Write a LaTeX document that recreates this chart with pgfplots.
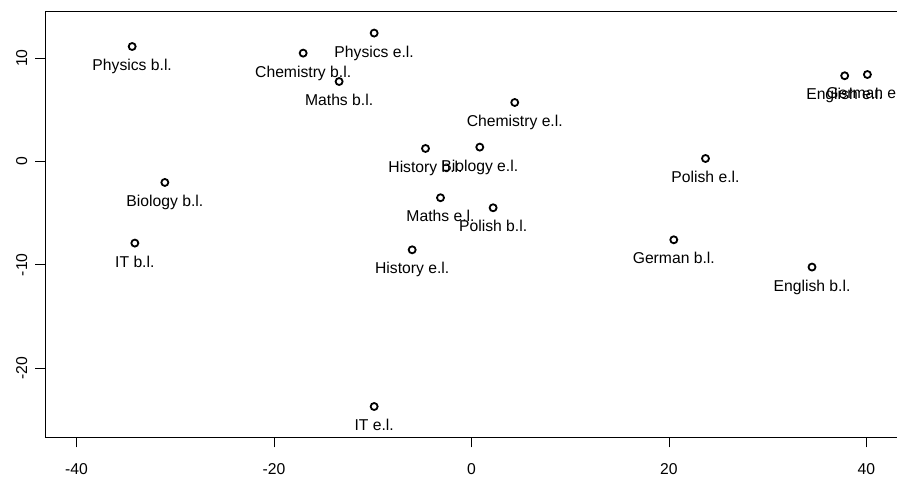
\documentclass[border=0pt]{standalone}
\usepackage{pgfplots}
\pgfplotsset{compat=1.18}
\usepackage{fontspec}
\setmainfont{Liberation Sans}

\begin{document}
\fontsize{15.7bp}{18bp}\selectfont
\begin{tikzpicture}
\useasboundingbox (0,0) rectangle (897bp,477bp);
\begin{axis}[
  at={(45bp,39.7bp)}, anchor=south west,
  scale only axis,
  width=853bp, height=425.6bp,
  xmin=-43.2, xmax=43.2,
  ymin=-26.7, ymax=14.5,
  axis line style={line width=0.8bp, black},
  xtick={-40,-20,0,20,40},
  xticklabels={-40,-20,0,20,40},
  ytick={-20,-10,0,10},
  yticklabels={-20,-10,0,10},
  xtick pos=lower, ytick pos=left,
  tick align=outside,
  major tick length=10bp,
  tick style={line width=0.8bp, black},
  xticklabel style={anchor=base, yshift=-27.3bp},
  yticklabel style={xshift=-8bp, rotate=90, anchor=base},
  every node near coord/.append style={anchor=base, yshift=-24bp, inner sep=0pt},
  clip=false,
]
\addplot[only marks, mark=o, mark size=3.5bp, mark options={line width=1.8bp, black},
  nodes near coords, point meta=explicit symbolic]
  table[col sep=comma, meta=label, row sep=\\] {
x,y,label\\
-34.37,11.13,Physics b.l.\\
-17.05,10.49,Chemistry b.l.\\
-9.86,12.43,Physics e.l.\\
-13.41,7.74,Maths b.l.\\
-4.66,1.26,History b.l.\\
-31.06,-2.03,Biology b.l.\\
-3.14,-3.51,Maths e.l.\\
4.38,5.71,Chemistry e.l.\\
0.84,1.39,Biology e.l.\\
23.70,0.29,Polish e.l.\\
2.19,-4.48,Polish b.l.\\
37.80,8.30,English e.l.\\
40.10,8.42,German e.l.\\
-34.10,-7.90,IT b.l.\\
-6.01,-8.55,History e.l.\\
-9.86,-23.72,IT e.l.\\
20.49,-7.58,German b.l.\\
34.49,-10.22,English b.l.\\
};
\end{axis}
\end{tikzpicture}
\end{document}
